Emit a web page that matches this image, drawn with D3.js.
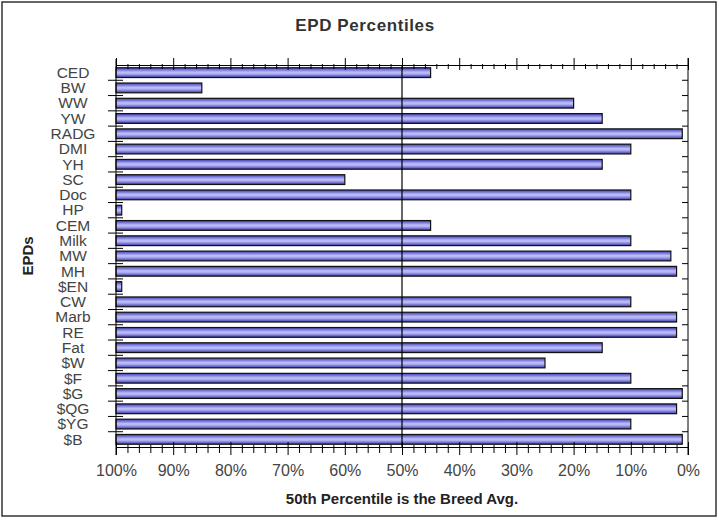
<!DOCTYPE html>
<html>
<head>
<meta charset="utf-8">
<script src="https://cdn.jsdelivr.net/npm/d3@7"></script>
<style>
  body { margin: 0; background: #fff; }
  svg text { font-family: "Liberation Sans", Arial, sans-serif; }
  .domain { stroke: #000; }
</style>
</head>
<body>
<div id="chart"></div>
<script>
// EPD names, top to bottom
const epds = ['CED', 'BW', 'WW', 'YW', 'RADG', 'DMI', 'YH', 'SC', 'Doc', 'HP', 'CEM', 'Milk', 'MW', 'MH',
  '$EN', 'CW', 'Marb', 'RE', 'Fat', '$W', '$F', '$G', '$QG', '$YG', '$B'];
// percentile rank per EPD
const percentiles = [45, 85, 20, 15, 1, 10, 15, 60, 10, 99, 45, 10, 3, 2,
  99, 10, 2, 2, 15, 25, 10, 1, 2, 10, 1];
const majorTicks = [100, 90, 80, 70, 60, 50, 40, 30, 20, 10, 0];
const minorTicks = d3.range(0, 101, 2).filter(v => v % 10 !== 0);

const width = 719, height = 522;
const plotL = 116, plotR = 688, plotT = 65, plotB = 447;

const svg = d3.select('#chart').append('svg')
  .attr('width', width).attr('height', height);

// outer frame
svg.append('rect').attr('x', 2).attr('y', 2).attr('width', 714).attr('height', 514)
  .attr('fill', 'none').attr('stroke', '#333').attr('stroke-width', 1.5);

const defs = svg.append('defs');
const grad = defs.append('linearGradient').attr('id', 'barGrad')
  .attr('x1', 0).attr('y1', 0).attr('x2', 0).attr('y2', 1);
grad.append('stop').attr('offset', '0%').attr('stop-color', '#3c3cb4');
grad.append('stop').attr('offset', '45%').attr('stop-color', '#bcbcfa');
grad.append('stop').attr('offset', '60%').attr('stop-color', '#b4b4f4');
grad.append('stop').attr('offset', '100%').attr('stop-color', '#3838ac');

const x = d3.scaleLinear().domain([100, 0]).range([plotL, plotR]);
const y = d3.scaleBand().domain(epds).range([plotT, plotB]).paddingInner(0.36).paddingOuter(0.18);

// title
svg.append('text').attr('x', 365).attr('y', 31).attr('text-anchor', 'middle')
  .attr('font-size', 17).attr('font-weight', 'bold').attr('letter-spacing', 0.6)
  .attr('fill', '#333').text('EPD Percentiles');

// bars
svg.append('g').selectAll('rect').data(epds).join('rect')
  .attr('x', x(100))
  .attr('y', d => y(d))
  .attr('width', (d, i) => x(percentiles[i]) - x(100))
  .attr('height', y.bandwidth())
  .attr('fill', 'url(#barGrad)')
  .attr('stroke', '#111').attr('stroke-width', 1.2);

// 50% line
svg.append('line').attr('x1', x(50)).attr('x2', x(50)).attr('y1', plotT).attr('y2', plotB)
  .attr('stroke', '#000').attr('stroke-width', 1.2);

// top axis
const topAxis = svg.append('g').attr('transform', `translate(0,${plotT})`);
topAxis.call(d3.axisTop(x).tickValues(minorTicks).tickSize(0).tickFormat(''));
topAxis.selectAll('.tick line').attr('y1', -1).attr('y2', 4).attr('stroke', '#000');
topAxis.append('g').call(d3.axisTop(x).tickValues(majorTicks).tickSize(0).tickFormat(''))
  .selectAll('.tick line').attr('y1', -7).attr('y2', 5).attr('stroke', '#000');

// bottom axis
const botAxis = svg.append('g').attr('transform', `translate(0,${plotB})`);
botAxis.call(d3.axisBottom(x).tickValues(minorTicks).tickSize(0).tickFormat(''));
botAxis.selectAll('.tick line').attr('y1', -2).attr('y2', 6).attr('stroke', '#000');
const botMajor = botAxis.append('g')
  .call(d3.axisBottom(x).tickValues(majorTicks).tickSize(0).tickFormat(d => d + '%'));
botMajor.select('.domain').remove();
botMajor.selectAll('.tick line').attr('y1', -5).attr('y2', 8).attr('stroke', '#000');
botMajor.selectAll('.tick text').attr('y', 18).attr('font-size', 16).attr('fill', '#444')
  .attr('font-family', '"Liberation Sans", Arial, sans-serif');

// left axis: ticks at band boundaries
const boundaries = epds.map(d => y(d) - y.step() * y.paddingInner() / 2).slice(1);
svg.append('line').attr('x1', plotL).attr('x2', plotL).attr('y1', plotT - 6).attr('y2', plotB + 8)
  .attr('stroke', '#000');
svg.append('g').selectAll('line').data(boundaries).join('line')
  .attr('x1', plotL - 8).attr('x2', plotL + 7).attr('y1', d => d).attr('y2', d => d)
  .attr('stroke', '#000');

// right axis
svg.append('line').attr('x1', plotR).attr('x2', plotR).attr('y1', plotT - 7).attr('y2', plotB + 8)
  .attr('stroke', '#000');
svg.append('g').selectAll('line').data(boundaries).join('line')
  .attr('x1', plotR - 6).attr('x2', plotR).attr('y1', d => d).attr('y2', d => d)
  .attr('stroke', '#000');

// category labels
svg.append('g').selectAll('text').data(epds).join('text')
  .attr('x', 73).attr('y', d => y(d) + y.bandwidth() / 2)
  .attr('dy', '0.34em').attr('text-anchor', 'middle')
  .attr('font-size', 15.5).attr('fill', '#444').text(d => d);

// axis titles
svg.append('text').attr('transform', `translate(33,${(plotT + plotB) / 2}) rotate(-90)`)
  .attr('text-anchor', 'middle').attr('font-size', 15).attr('font-weight', 'bold')
  .attr('fill', '#222').text('EPDs');
svg.append('text').attr('x', x(50)).attr('y', 504).attr('text-anchor', 'middle')
  .attr('font-size', 15).attr('font-weight', 'bold').attr('fill', '#222')
  .text('50th Percentile is the Breed Avg.');
</script>
</body>
</html>
